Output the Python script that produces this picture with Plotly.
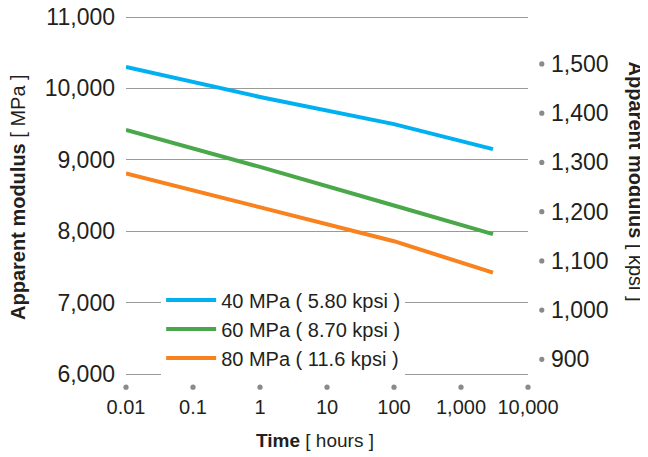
import math
import plotly.graph_objects as go

# ---- data ----
time_h = [0.01, 1, 100, 3000]
mpa40 = [10300, 9880, 9500, 9150]
mpa60 = [9420, 8900, 8360, 7960]
mpa80 = [8810, 8340, 7860, 7420]
series_names = ["40 MPa ( 5.80 kpsi )", "60 MPa ( 8.70 kpsi )", "80 MPa ( 11.6 kpsi )"]
series_colors = ["#00b0f0", "#4aa84a", "#f7821e"]

x_tickvals = [0.01, 0.1, 1, 10, 100, 1000, 10000]
x_ticktext = ["0.01", "0.1", "1", "10", "100", "1,000", "10,000"]
y_tickvals = [6000, 7000, 8000, 9000, 10000, 11000]
y_ticktext = ["6,000", "7,000", "8,000", "9,000", "10,000", "11,000"]
y2_tickvals = [900, 1000, 1100, 1200, 1300, 1400, 1500]
y2_ticktext = ["900", "1,000", "1,100", "1,200", "1,300", "1,400", "1,500"]

KPSI = 6.894757  # MPa per kpsi
x_range = [-2, 4]
y_range = [5958, 11042]
y2_range = [y_range[0] / KPSI, y_range[1] / KPSI]

FONT = "Liberation Sans"
TXT = "#231f20"
DOT = "#8a8a8a"

fig = go.Figure()
for name, vals, col in zip(series_names, [mpa40, mpa60, mpa80], series_colors):
    fig.add_trace(go.Scatter(x=time_h, y=vals, mode="lines", name=name,
                             line=dict(color=col, width=4), hoverinfo="skip"))

shapes = []
# tick dots below the x axis
for v in x_tickvals:
    px = (math.log10(v) - x_range[0]) / (x_range[1] - x_range[0])
    shapes.append(dict(type="circle", xref="paper", yref="paper",
                       xsizemode="pixel", ysizemode="pixel",
                       xanchor=px, yanchor=0, x0=-2.6, x1=2.6, y0=-12.8, y1=-7.6,
                       fillcolor=DOT, line=dict(width=0)))
# tick dots on the right axis
for v in y2_tickvals:
    shapes.append(dict(type="circle", xref="paper", yref="y2",
                       xsizemode="pixel", ysizemode="pixel",
                       xanchor=1, yanchor=v, x0=11.2, x1=16.4, y0=-2.6, y1=2.6,
                       fillcolor=DOT, line=dict(width=0)))

# page body has an 8px margin, so the figure is sized to fill the rest of the window
fig.update_layout(
    width=640, height=449,
    margin=dict(l=118, r=120, t=6, b=80, autoexpand=False),
    paper_bgcolor="white", plot_bgcolor="white",
    font=dict(family=FONT, color=TXT, size=21),
    xaxis=dict(type="log", range=x_range, tickvals=x_tickvals, ticktext=x_ticktext,
               showgrid=False, zeroline=False, showline=False, ticks="",
               automargin=False, ticklabelstandoff=16, tickfont=dict(size=20),
               ticklabeloverflow="allow"),
    yaxis=dict(range=y_range, tickvals=y_tickvals, ticktext=y_ticktext,
               showgrid=True, gridcolor="#9a9a9a", gridwidth=1.2, zeroline=False,
               showline=False, ticks="", automargin=False, ticklabelstandoff=10,
               tickfont=dict(size=23), ticklabeloverflow="allow"),
    yaxis2=dict(range=y2_range, overlaying="y", side="right", tickvals=y2_tickvals,
                ticktext=y2_ticktext, showgrid=False, zeroline=False, showline=False,
                ticks="", automargin=False, ticklabelstandoff=22, tickfont=dict(size=23),
                ticklabeloverflow="allow"),
    legend=dict(x=0.0874, y=0.2658, xanchor="left", yanchor="top", bgcolor="white",
                font=dict(size=20, color=TXT), itemwidth=50, tracegroupgap=0),
    showlegend=True,
    shapes=shapes,
    annotations=[
        dict(text="<b>Apparent modulus</b> [ MPa ]", x=-0.2687, y=0.496, xref="paper",
             yref="paper", showarrow=False, textangle=-90, font=dict(size=20),
             xanchor="center", yanchor="middle"),
        dict(text="<b>Apparent modulus</b> [ kpsi ]", x=1.268, y=0.539, xref="paper",
             yref="paper", showarrow=False, textangle=90, font=dict(size=20),
             xanchor="center", yanchor="middle"),
        dict(text="<b>Time</b> [ hours ]", x=0.47, y=-0.1736, xref="paper", yref="paper",
             showarrow=False, font=dict(size=19), xanchor="center", yanchor="middle"),
    ],
)
fig.write_html("out.html")
